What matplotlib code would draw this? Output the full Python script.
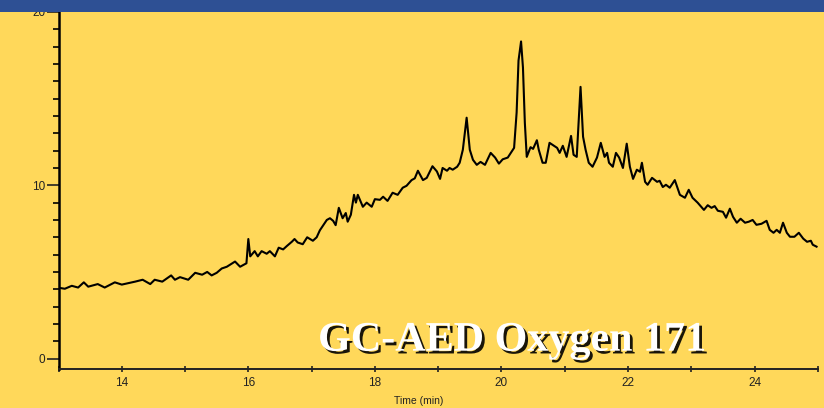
import matplotlib.pyplot as plt
import matplotlib.patheffects as pe
from matplotlib.patches import Rectangle
from matplotlib.ticker import MultipleLocator, FuncFormatter

# retention time (min) and detector signal
time_min = [
    13.00, 13.10, 13.21, 13.31, 13.40, 13.47, 13.62, 13.73, 13.89, 14.00,
    14.21, 14.33, 14.45, 14.52, 14.64, 14.78, 14.84, 14.92, 15.05, 15.16,
    15.27, 15.35, 15.42, 15.50, 15.58, 15.66, 15.79, 15.87, 15.97, 16.00,
    16.03, 16.10, 16.15, 16.21, 16.29, 16.34, 16.42, 16.48, 16.55, 16.61,
    16.69, 16.73, 16.78, 16.86, 16.93, 17.02, 17.08, 17.13, 17.24, 17.29,
    17.34, 17.38, 17.43, 17.49, 17.54, 17.57, 17.62, 17.67, 17.70, 17.73,
    17.81, 17.87, 17.95, 18.00, 18.08, 18.13, 18.20, 18.28, 18.36, 18.44,
    18.50, 18.58, 18.63, 18.68, 18.76, 18.82, 18.91, 18.98, 19.03, 19.07,
    19.14, 19.18, 19.23, 19.30, 19.34, 19.39, 19.45, 19.50, 19.55, 19.61,
    19.67, 19.74, 19.83, 19.90, 19.96, 20.02, 20.10, 20.16, 20.20, 20.24,
    20.27, 20.31, 20.34, 20.37, 20.40, 20.46, 20.50, 20.56, 20.59, 20.65,
    20.70, 20.76, 20.81, 20.88, 20.92, 20.97, 21.03, 21.10, 21.14, 21.19,
    21.25, 21.29, 21.33, 21.38, 21.44, 21.51, 21.57, 21.63, 21.67, 21.70,
    21.76, 21.81, 21.86, 21.92, 21.98, 22.03, 22.08, 22.14, 22.19, 22.22,
    22.27, 22.31, 22.38, 22.46, 22.50, 22.55, 22.60, 22.66, 22.74, 22.82,
    22.90, 22.96, 23.02, 23.10, 23.20, 23.26, 23.32, 23.37, 23.42, 23.50,
    23.55, 23.61, 23.66, 23.72, 23.78, 23.85, 23.91, 23.97, 24.03, 24.11,
    24.19, 24.24, 24.30, 24.35, 24.40, 24.45, 24.51, 24.56, 24.63, 24.70,
    24.77, 24.83, 24.89, 24.92, 24.98,
]
signal = [
    4.09, 4.03, 4.20, 4.10, 4.40, 4.15, 4.30, 4.10, 4.40, 4.27,
    4.44, 4.55, 4.30, 4.55, 4.44, 4.80, 4.55, 4.70, 4.55, 4.95,
    4.84, 5.00, 4.80, 4.95, 5.20, 5.30, 5.60, 5.30, 5.50, 6.90,
    5.90, 6.20, 5.90, 6.20, 6.05, 6.20, 5.90, 6.40, 6.30, 6.50,
    6.75, 6.90, 6.70, 6.60, 7.00, 6.80, 7.00, 7.40, 8.00, 8.10,
    7.95, 7.70, 8.70, 8.10, 8.40, 7.90, 8.30, 9.45, 9.00, 9.45,
    8.76, 9.00, 8.76, 9.20, 9.16, 9.34, 9.10, 9.57, 9.45, 9.86,
    9.97, 10.30, 10.40, 10.84, 10.30, 10.43, 11.10, 10.80, 10.37, 11.00,
    10.84, 11.00, 10.90, 11.07, 11.30, 12.05, 13.90, 12.05, 11.47, 11.18,
    11.35, 11.18, 11.87, 11.60, 11.25, 11.50, 11.60, 11.93, 12.16, 14.20,
    17.20, 18.30, 16.80, 13.60, 11.64, 12.20, 12.10, 12.60, 12.05, 11.30,
    11.30, 12.45, 12.33, 12.16, 11.87, 12.28, 11.64, 12.85, 11.76, 11.64,
    15.68, 12.80, 12.05, 11.30, 11.07, 11.60, 12.45, 11.64, 11.87, 11.30,
    11.07, 11.87, 11.60, 11.00, 12.40, 11.07, 10.37, 10.90, 10.78, 11.30,
    10.20, 10.03, 10.43, 10.20, 10.26, 9.90, 10.03, 9.86, 10.30, 9.45,
    9.28, 9.74, 9.28, 9.00, 8.58, 8.85, 8.70, 8.80, 8.53, 8.47,
    8.13, 8.65, 8.18, 7.84, 8.07, 7.84, 7.90, 8.00, 7.72, 7.78,
    7.95, 7.43, 7.26, 7.43, 7.26, 7.84, 7.26, 7.03, 7.03, 7.26,
    6.92, 6.74, 6.80, 6.57, 6.46,
]

bg = "#FFD85A"
band = "#2E5094"

fig = plt.figure(figsize=(8.24, 4.08), dpi=100, facecolor=bg)
ax = fig.add_axes([0.071, 0.0956, 0.9215, 0.875])
ax.set_facecolor(bg)

ax.plot(time_min, signal, color="black", lw=1.5)

ax.set_xlim(13, 25)
ax.set_ylim(-0.6, 20)

for s in ["top", "right"]:
    ax.spines[s].set_visible(False)
ax.spines["left"].set_linewidth(1.8)
ax.spines["bottom"].set_linewidth(1.4)
ax.spines["bottom"].set_color("#222222")

ax.yaxis.set_major_locator(MultipleLocator(10))
ax.yaxis.set_minor_locator(MultipleLocator(1))
ax.tick_params(axis="y", which="major", length=8.6, width=1.2, pad=1,
               labelsize=8.5, colors="#222222")
ax.tick_params(axis="y", which="minor", length=4.3, width=1.2)

ax.xaxis.set_major_locator(MultipleLocator(2))
ax.xaxis.set_minor_locator(MultipleLocator(1))
ax.xaxis.set_major_formatter(FuncFormatter(lambda v, p: f"{v:.0f}"))
ax.tick_params(axis="x", which="both", direction="inout", length=4, width=1.2,
               colors="#222222")
ax.tick_params(axis="x", which="major", labelsize=8.5, pad=4)

for lab in ax.get_xticklabels() + ax.get_yticklabels():
    lab.set_fontfamily("Liberation Sans")

fig.text(419 / 824, 0.006, "Time (min)", ha="center", va="bottom",
         fontsize=7.5, family="Liberation Sans", color="#222222")

fig.text(0.386, 0.165, "GC-AED Oxygen 171", ha="left", va="center",
         fontsize=30.3, fontweight="bold", family="Liberation Serif",
         color="white",
         path_effects=[pe.SimplePatchShadow(offset=(2, -2),
                                            shadow_rgbFace="black", alpha=0.9),
                       pe.Normal()])

# header band across the top
fig.add_artist(Rectangle((0, 1 - 12 / 408), 1, 12 / 408,
                         transform=fig.transFigure, facecolor=band,
                         edgecolor="none", zorder=10))

fig.savefig("out.png", dpi=100, facecolor=bg)
